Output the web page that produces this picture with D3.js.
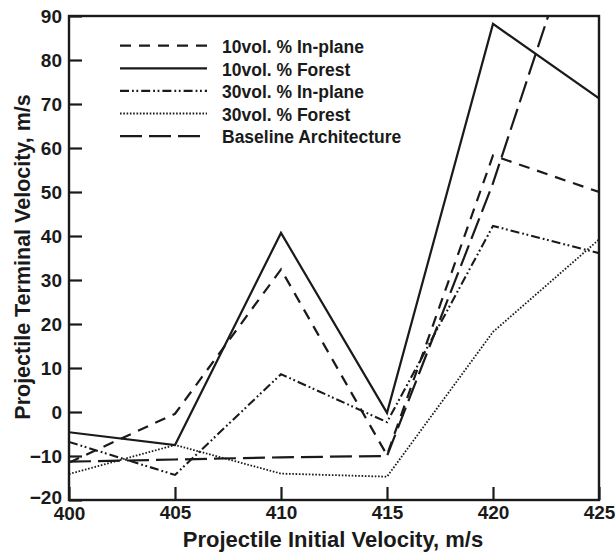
<!DOCTYPE html>
<html><head><meta charset="utf-8">
<script src="https://cdn.jsdelivr.net/npm/d3@7"></script>
<style>
body{margin:0;background:#fff}
svg{display:block}
text{font-family:"Liberation Sans",Arial,Helvetica,sans-serif;font-weight:bold;fill:#1a1a1a}
</style>
</head><body>
<svg id="c" width="615" height="552"></svg>
<script>
// ---- data ----
const velocities = [400, 405, 410, 415, 420, 425];
const inPlane10  = [-11.5, -0.4, 32.4, -9.8, 58.3, 50.0];
const forest10   = [-4.6, -7.5, 40.7, -0.2, 88.2, 71.3];
const inPlane30  = [-6.8, -14.3, 8.6, -2.3, 42.3, 36.1];
const forest30   = [-14.1, -7.5, -14.0, -14.7, 18.2, 39.2];
const baseline   = [-11.3, -10.8, -10.3, -10.0, 52.0, 125.0];
const seriesNames = ["10vol. % In-plane", "10vol. % Forest", "30vol. % In-plane", "30vol. % Forest", "Baseline Architecture"];
const xTicks = [400, 405, 410, 415, 420, 425];
const yTicks = [-20, -10, 0, 10, 20, 30, 40, 50, 60, 70, 80, 90];
const xTitle = "Projectile Initial Velocity, m/s";
const yTitle = "Projectile Terminal Velocity, m/s";

// ---- styles ----
const ink = "#1a1a1a";
const styles = [
  {dash: "11,8", w: 2.2},
  {dash: null, w: 2.2},
  {dash: "9,3,1.8,2.6,1.8,3", w: 2.1},
  {dash: "1.6,1.7", w: 1.8},
  {dash: "22,7", w: 2.2}
];
const seriesData = [inPlane10, forest10, inPlane30, forest30, baseline];

const svg = d3.select("#c");
const L = 69, R = 599, T = 16, B = 500;
const x = d3.scaleLinear().domain([400, 425]).range([L, R]);
const y = d3.scaleLinear().domain([-20, 90]).range([B, T]);

svg.append("defs").append("clipPath").attr("id", "clip")
  .append("rect").attr("x", L).attr("y", T).attr("width", R - L).attr("height", B - T);

// lines
const line = d3.line().x((d, i) => x(velocities[i])).y(d => y(d));
const g = svg.append("g").attr("clip-path", "url(#clip)");
seriesData.forEach((s, k) => {
  g.append("path").datum(s).attr("d", line)
    .attr("fill", "none").attr("stroke", ink)
    .attr("stroke-width", styles[k].w)
    .attr("stroke-dasharray", styles[k].dash)
    .attr("stroke-linejoin", "miter");
});

// axes
const fs = 19;
const ax = svg.append("g").attr("transform", `translate(0,${B})`)
  .call(d3.axisBottom(x).tickValues(xTicks).tickSize(-13).tickPadding(6).tickFormat(d3.format("d")));
const ay = svg.append("g").attr("transform", `translate(${L},0)`)
  .call(d3.axisLeft(y).tickValues(yTicks).tickSize(-13).tickPadding(7).tickFormat(d3.format("d")));
[ax, ay].forEach(a => {
  a.select(".domain").remove();
  a.selectAll(".tick line").attr("stroke", ink).attr("stroke-width", 2.2);
  a.selectAll(".tick text").attr("fill", ink).style("font-size", fs + "px")
    .attr("font-family", null);
});
// lift the lowest y label a touch so it does not sit on the "400" label
ay.selectAll(".tick").filter(d => d === -20).select("text").attr("y", -3);
ax.selectAll(".tick").filter(d => d === 400).select("text").attr("y", 7);

// frame
svg.append("rect").attr("x", L).attr("y", T).attr("width", R - L).attr("height", B - T)
  .attr("fill", "none").attr("stroke", ink).attr("stroke-width", 2.4);

// titles
svg.append("text").attr("x", (L + R) / 2 - 1).attr("y", 547)
  .attr("text-anchor", "middle").style("font-size", "22px").text(xTitle);
svg.append("text").attr("transform", `translate(30,${(T + B) / 2 - 1}) rotate(-90)`)
  .attr("text-anchor", "middle").style("font-size", "21.5px").text(yTitle);

// legend
const lg = svg.append("g");
seriesNames.forEach((n, k) => {
  const yy = 45.7 + k * 22.6;
  lg.append("line").attr("x1", 120).attr("x2", 207).attr("y1", yy).attr("y2", yy)
    .attr("stroke", ink).attr("stroke-width", styles[k].w)
    .attr("stroke-dasharray", styles[k].dash);
  lg.append("text").attr("x", 222).attr("y", yy + 7.2)
    .style("font-size", "17.5px").text(n);
});
</script>
</body></html>
